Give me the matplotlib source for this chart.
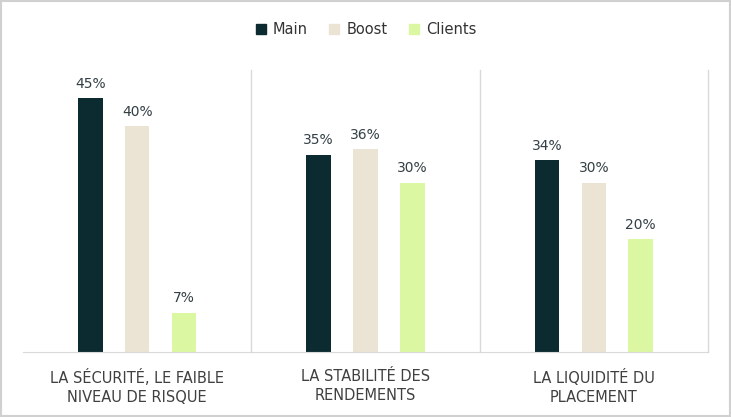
import numpy as np
import matplotlib.pyplot as plt
from matplotlib.patches import Rectangle

# Chart data
categories = ["LA SÉCURITÉ, LE FAIBLE\nNIVEAU DE RISQUE",
              "LA STABILITÉ DES\nRENDEMENTS",
              "LA LIQUIDITÉ DU\nPLACEMENT"]
series_names = ["Main", "Boost", "Clients"]
main_vals = [45, 35, 34]
boost_vals = [40, 36, 30]
clients_vals = [7, 30, 20]

colors = ["#0b2b31", "#ebe3d4", "#dcf7a2"]
text_color = "#404040"

fig = plt.figure(figsize=(7.31, 4.17), dpi=100)
ax = fig.add_axes([23 / 731, 1 - 352 / 417, (708 - 23) / 731, (352 - 70) / 417])

x = np.arange(len(categories))
offset = 0.205
width = 0.107

series = [main_vals, boost_vals, clients_vals]
for i, (name, vals) in enumerate(zip(series_names, series)):
    bars = ax.bar(x + (i - 1) * offset, vals, width, color=colors[i], label=name)
    for b, v in zip(bars, vals):
        ax.text(b.get_x() + b.get_width() / 2, v + 1.3, f"{v}%",
                ha="center", va="bottom", fontsize=10, color="#333f44")

ax.set_xlim(-0.5, len(categories) - 0.5)
ax.set_ylim(0, 50)

# category separators
for sep in np.arange(len(categories)) + 0.5:
    ax.axvline(sep, color="#d9d9d9", linewidth=1, clip_on=False)

for side in ["left", "right", "top"]:
    ax.spines[side].set_visible(False)
ax.spines["bottom"].set_color("#d9d9d9")
ax.set_yticks([])
ax.set_xticks(x)
ax.set_xticklabels(categories, fontsize=10.5, color=text_color, linespacing=1.4)
ax.tick_params(axis="x", length=0, pad=12)

handles = [plt.Line2D([], [], marker="s", linestyle="", markersize=7.5,
                      color=c) for c in colors]
fig.legend(handles, series_names, loc="center", bbox_to_anchor=(365 / 731, 1 - 30 / 417),
           ncol=3, frameon=False, fontsize=10.5, handletextpad=0.35,
           handlelength=1.0, columnspacing=1.3, labelcolor="#333333")

# figure border
fig.patches.append(Rectangle((0.001, 0.002), 0.997, 0.995, transform=fig.transFigure,
                             fill=False, edgecolor="#d0d0d0", linewidth=1.5))

fig.savefig("out.png", dpi=100)
